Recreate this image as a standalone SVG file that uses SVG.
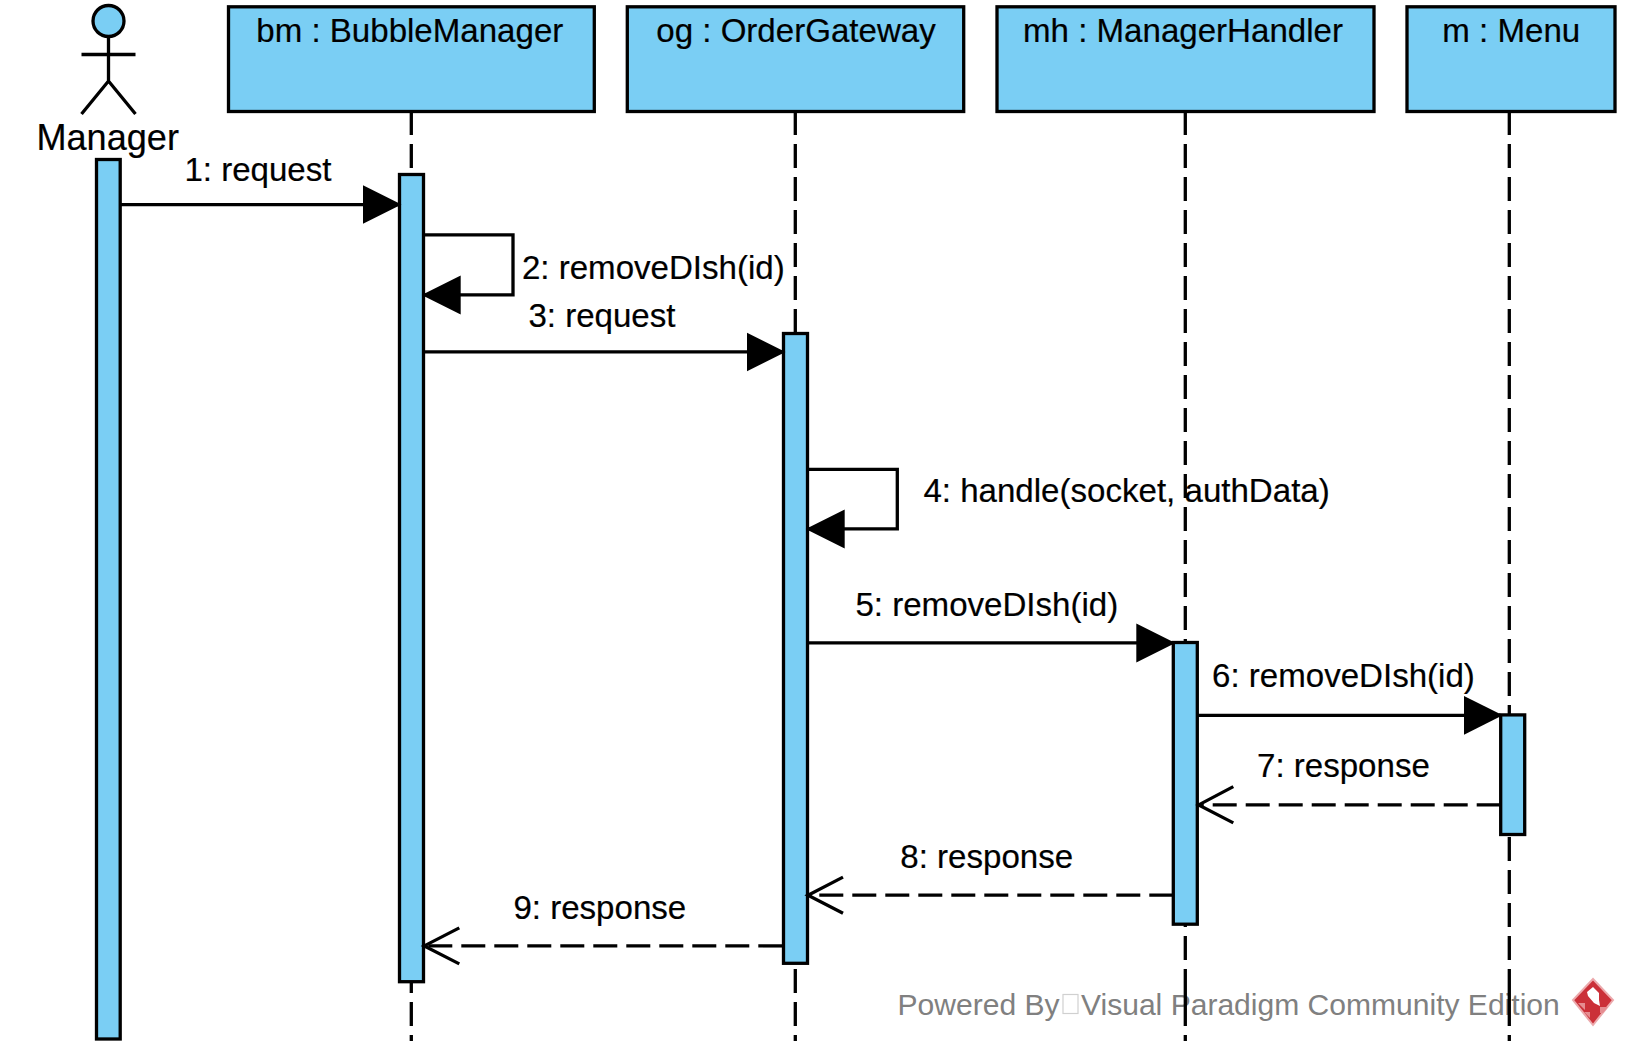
<svg xmlns="http://www.w3.org/2000/svg" width="1629" height="1053" viewBox="0 0 1629 1053">
<style>
text{font-family:"Liberation Sans",Arial,sans-serif;font-size:33.1px;fill:#000;stroke:#000;stroke-width:.2px}
.box{fill:#7ACEF4;stroke:#000;stroke-width:3.3}
.ln{fill:none;stroke:#000;stroke-width:3.3}
.life,.dash{fill:none;stroke:#000;stroke-width:3.3;stroke-dasharray:24 9}
text.wm{font-size:30.05px;fill:#808080;stroke:none}
</style>
<defs>
<marker id="solid" markerUnits="userSpaceOnUse" markerWidth="41" markerHeight="42" refX="37" refY="20" orient="auto"><path d="M0 0.5L39 20L0 39.5Z" fill="#000"/></marker>
</defs>
<rect width="1629" height="1053" fill="#fff"/>
<g id="watermark">
<text class="wm" x="897.5" y="1014.5">Powered By</text>
<rect x="1063" y="994.5" width="15" height="19" fill="none" stroke="#d0d0d0" stroke-width="1.2"/>
<text class="wm" x="1081" y="1014.5">Visual Paradigm Community Edition</text>
<g id="logo">
<path fill="#cb3038" stroke="#eca9ac" stroke-width="2" d="M1593 979L1613 1000L1593 1025L1573 1000Z"/>
<path fill="#fff" d="M1593 987L1599 993L1599 1000L1600 1006L1594 1003L1588 996L1587 992Z"/>
<path fill="#e58d91" d="M1578 1003l7 0l0 7zM1600 1007h8l-5 6h-3zM1584 1012l6 0l0 6z"/>
</g>
</g>
<g id="lifelines">
<path class="life" d="M411.3 111V1041"/>
<path class="life" d="M795.3 111V1041"/>
<path class="life" d="M1185.3 111V1041"/>
<path class="life" d="M1509.3 111V1041"/>
<path class="ln" d="M1185.3 993V1002M1509.3 993V1002"/>
</g>
<g id="actor-manager">
<circle cx="108.5" cy="21" r="15.5" class="box"/>
<path class="ln" d="M108.5 36V81M81.5 54.5H135.5M81.5 114L108.5 81L135.5 114"/>
<text x="36.5" y="150" style="font-size:36.1px">Manager</text>
</g>
<g id="bm">
<rect class="box" x="228.5" y="6.8" width="365.8" height="104.7"/>
<text x="409.8" y="42" text-anchor="middle">bm : BubbleManager</text>
</g>
<g id="og">
<rect class="box" x="627.3" y="6.8" width="336.4" height="104.7"/>
<text x="796" y="42" text-anchor="middle">og : OrderGateway</text>
</g>
<g id="mh">
<rect class="box" x="997" y="6.8" width="377" height="104.7"/>
<text x="1183" y="42" text-anchor="middle">mh : ManagerHandler</text>
</g>
<g id="m">
<rect class="box" x="1407" y="6.8" width="208" height="104.7"/>
<text x="1511.3" y="42" text-anchor="middle">m : Menu</text>
</g>
<g id="activations">
<rect class="box" x="96.5" y="159.5" width="23.7" height="879.5"/>
<rect class="box" x="399.5" y="174.5" width="24" height="807.2"/>
<rect class="box" x="783.5" y="333.5" width="24" height="629.8"/>
<rect class="box" x="1173.3" y="642.5" width="24" height="281.7"/>
<rect class="box" x="1500.7" y="714.9" width="24" height="119.6"/>
</g>
<g id="connectors" transform="translate(0 .6)">
<path class="ln" d="M120 204H399.5" marker-end="url(#solid)"/>
<path class="ln" d="M423.5 234.3H513V294.3H423.7" marker-end="url(#solid)"/>
<path class="ln" d="M423.5 351.3H783.5" marker-end="url(#solid)"/>
<path class="ln" d="M807.7 468.7H897.3V528.3H807.7" marker-end="url(#solid)"/>
<path class="ln" d="M807.7 642.3H1173.3" marker-end="url(#solid)"/>
<path class="ln" d="M1197.3 714.7H1500.7" marker-end="url(#solid)"/>
<path class="dash" d="M1500.7 804.3H1198.7"/>
<path class="ln" d="M1233.3 786L1198.7 804.3L1233.3 822.3"/>
<path class="dash" d="M1173.3 894.6H808"/>
<path class="ln" d="M843 876.5L808 894.6L843 912.7"/>
<path class="dash" d="M782.3 945.3H424.3"/>
<path class="ln" d="M459.3 927.3L424.3 945.3L459.3 963.3"/>
</g>
<g id="labels" transform="translate(0 .8)">
<text x="184.4" y="180">1: request</text>
<text x="521.9" y="278.3">2: removeDIsh(id)</text>
<text x="528.4" y="326.7">3: request</text>
<text x="923.4" y="501">4: handle(socket, authData)</text>
<text x="855.4" y="615">5: removeDIsh(id)</text>
<text x="1212" y="686.7">6: removeDIsh(id)</text>
<text x="1257" y="776.7">7: response</text>
<text x="900.3" y="867">8: response</text>
<text x="513.4" y="918.3">9: response</text>
</g>
</svg>
